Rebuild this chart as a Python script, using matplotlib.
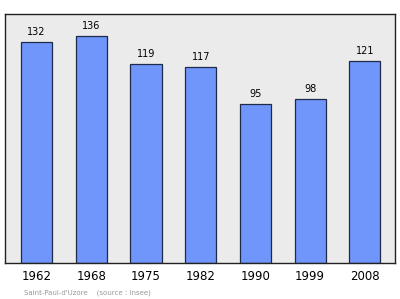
import matplotlib
matplotlib.use("Agg")
import matplotlib.pyplot as plt

years = ["1962", "1968", "1975", "1982", "1990", "1999", "2008"]
population = [132, 136, 119, 117, 95, 98, 121]

fig = plt.figure(figsize=(4.0, 2.99), dpi=100)
ax = fig.add_axes([5/400, 1-263/299, 390/400, 249/299])
ax.set_facecolor("#ebebeb")
x = list(range(len(years)))
ax.bar(x, population, width=0.57, color="#7096fc", edgecolor="#1f2a4a", linewidth=0.9, zorder=2)
for xi, v in zip(x, population):
    ax.text(xi, v + 3, str(v), ha="center", va="bottom", fontsize=7, color="black")
ax.set_xlim(-0.576, 6.55)
ax.set_ylim(0, 149)
ax.set_yticks([])
ax.set_xticks(x)
ax.set_xticklabels(years, fontsize=8.5)
ax.tick_params(axis="x", length=0, pad=5)
for s in ax.spines.values():
    s.set_color("#222222")
    s.set_linewidth(1.0)
fig.text(24/400, 1-293/299, "Saint-Paul-d'Uzore    (source : Insee)", fontsize=5, color="#999999", va="center")
fig.savefig("out.png", dpi=100)
